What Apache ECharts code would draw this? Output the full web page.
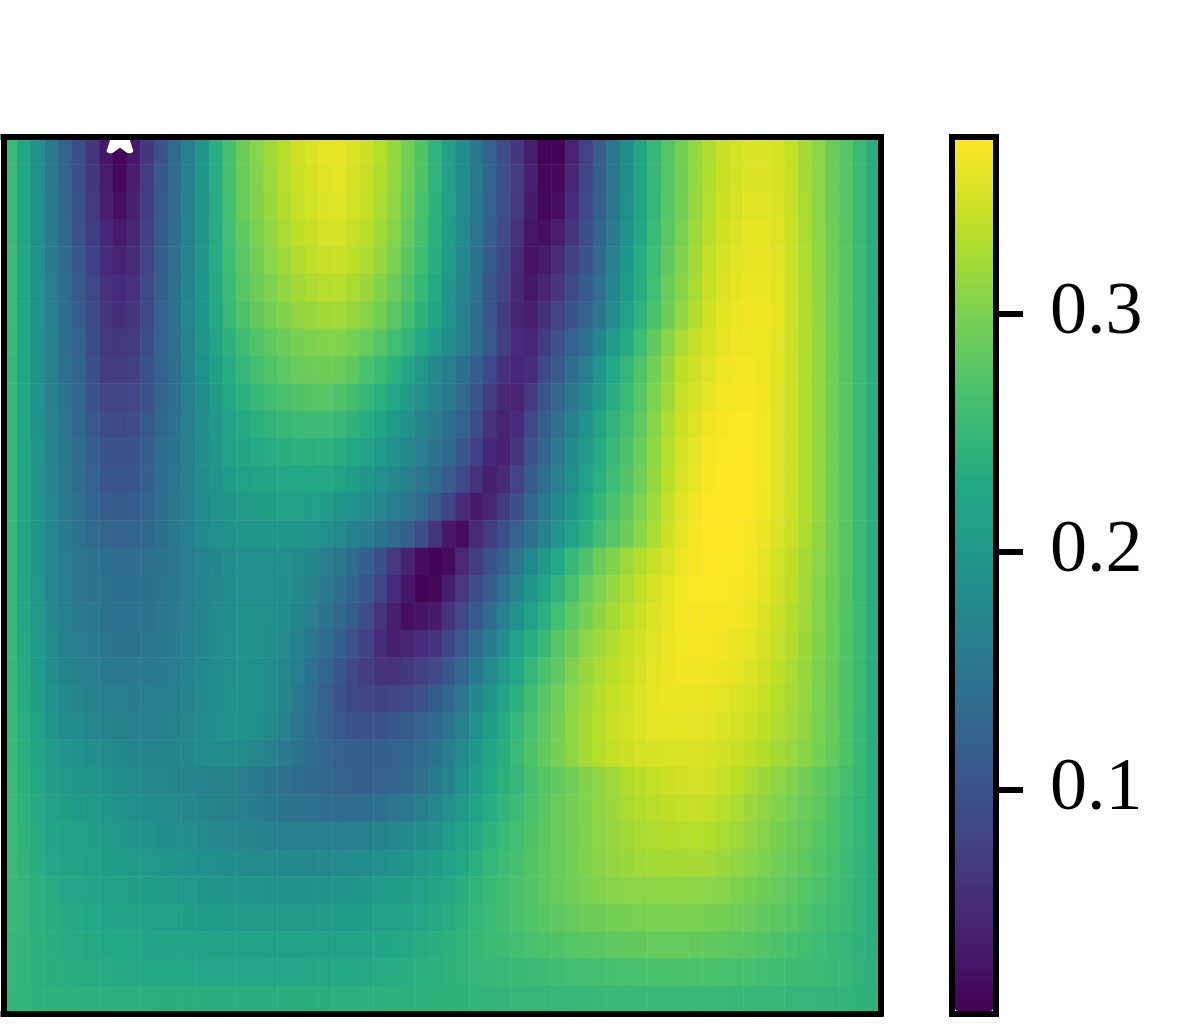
<!DOCTYPE html>
<html>
<head>
<meta charset="utf-8">
<style>
  html, body { margin: 0; background: #fff; }
  #chart { width: 1196px; height: 1034px; }
</style>
<script src="https://cdn.jsdelivr.net/npm/echarts@6/dist/echarts.min.js"></script>
</head>
<body>
<div id="chart"></div>
<script>
// values, in thousandths, top row first
const fieldRows = [
[255,225,190,155,125,92,62,30,8,30,65,102,132,165,200,235,265,290,307,322,335,347,354,360,362,354,345,332,316,296,272,245,215,185,152,122,92,65,35,9,9,42,78,113,150,185,220,250,275,296,315,330,342,350,354,354,351,340,325,310,290,275,255,235],
[255,225,190,155,125,95,64,35,14,37,70,105,135,165,200,235,265,290,305,320,333,345,352,358,360,352,343,330,315,295,272,245,215,185,155,125,95,70,40,12,12,45,80,115,150,185,220,250,275,295,315,330,343,350,355,355,352,340,325,310,290,275,255,235],
[255,225,190,157,128,98,68,40,22,40,73,108,137,167,200,233,263,288,303,318,330,342,349,354,356,349,340,327,312,292,268,243,213,183,153,122,93,66,34,14,22,52,85,118,153,187,222,250,277,297,317,332,345,352,358,358,354,342,327,310,291,275,255,235],
[255,225,190,158,130,102,72,46,32,46,77,111,139,168,200,232,261,284,300,314,326,337,344,349,351,344,335,322,307,287,264,240,210,180,150,118,90,60,28,22,35,62,93,124,158,192,226,254,280,300,320,335,348,355,360,360,356,344,328,312,292,276,255,235],
[255,225,190,159,133,106,77,52,42,52,81,114,141,170,200,231,258,280,295,309,320,330,337,342,344,337,328,315,300,280,258,235,206,176,146,112,85,52,25,33,50,75,102,132,165,198,232,258,284,304,323,339,352,358,362,362,358,345,329,312,293,276,255,235],
[254,225,190,160,136,110,82,58,50,58,85,117,143,172,200,229,255,275,290,303,313,322,328,332,334,327,318,305,290,272,250,229,200,171,141,107,78,46,30,45,65,88,112,141,173,205,237,262,288,308,327,343,355,361,364,364,359,346,330,313,294,276,255,235],
[254,225,190,161,139,114,86,63,56,63,88,119,145,174,200,226,251,270,285,297,305,313,318,322,323,317,307,295,280,263,243,222,195,166,136,103,72,43,35,57,78,100,122,150,180,212,242,268,293,313,331,347,358,363,366,366,360,347,331,314,295,276,255,235],
[252,225,190,163,142,119,91,67,63,69,92,120,143,168,194,219,241,258,272,283,291,299,303,305,305,298,288,276,262,246,226,207,182,160,138,108,74,50,45,72,98,120,143,172,205,230,257,285,307,328,342,352,361,365,366,366,359,346,331,315,296,276,255,235],
[250,225,190,165,145,125,95,72,70,77,97,120,140,165,190,214,233,248,262,273,281,288,292,293,291,281,268,256,241,222,203,178,162,142,116,85,58,46,52,88,112,137,162,197,227,247,272,297,317,337,347,357,365,368,368,366,358,345,330,315,295,275,255,235],
[250,225,192,167,148,127,102,80,78,84,102,124,142,163,186,208,225,238,250,259,266,272,275,275,272,262,250,238,223,206,187,168,154,133,103,72,48,42,68,103,128,152,177,207,235,255,278,302,322,342,352,362,368,370,370,367,358,345,330,315,295,275,255,235],
[250,225,193,169,150,130,108,90,88,93,108,128,145,163,183,203,218,229,238,245,250,254,256,256,252,243,231,219,205,190,173,158,142,120,90,60,42,50,85,118,143,167,192,220,245,262,285,308,328,346,356,366,371,372,372,368,358,345,330,315,295,275,255,235],
[250,225,195,170,152,133,113,98,96,100,113,132,148,164,182,199,212,221,228,233,237,239,240,239,234,226,215,204,191,177,162,148,130,104,75,46,40,62,98,128,154,178,203,230,252,268,290,312,332,350,360,369,372,373,372,368,358,345,330,315,295,275,255,235],
[250,225,197,172,154,137,119,106,104,107,118,135,150,165,181,195,206,213,218,222,224,225,225,224,218,209,199,189,177,165,150,133,113,85,58,38,50,78,112,140,165,188,213,238,258,274,295,316,336,353,363,371,373,374,373,368,358,345,330,315,295,275,255,235],
[250,225,198,174,156,141,125,114,112,114,124,138,152,165,179,191,199,204,208,211,212,212,210,207,200,192,183,174,162,150,132,108,82,50,34,45,70,95,128,155,178,200,224,247,266,282,302,322,341,357,367,373,374,374,372,367,357,345,330,315,295,275,255,235],
[250,225,199,175,158,146,133,126,124,124,130,140,153,165,177,187,193,196,199,200,200,199,195,189,180,170,158,147,133,116,92,62,30,18,48,72,95,120,145,170,195,215,238,259,275,292,310,328,346,360,370,374,374,373,370,364,355,343,328,313,295,275,255,235],
[250,225,200,175,160,150,144,139,137,138,141,146,152,160,168,176,183,187,189,189,187,181,172,162,151,136,117,93,66,42,18,10,16,48,72,97,122,150,176,204,226,250,270,290,305,320,331,343,353,365,371,373,373,372,368,360,350,338,325,310,295,275,255,235],
[250,226,201,176,161,152,146,141,139,139,142,147,153,161,169,177,184,188,189,188,185,177,166,154,142,125,103,78,50,28,10,12,38,66,90,115,143,170,198,220,245,266,287,302,317,328,340,350,360,368,372,372,372,370,366,358,348,336,323,308,293,274,255,235],
[250,227,203,178,163,156,151,145,143,143,145,150,155,163,171,179,186,190,190,187,182,172,160,146,131,112,90,62,38,20,26,33,60,86,110,137,165,192,215,238,261,281,298,312,324,335,345,354,362,368,371,371,370,368,363,355,345,333,321,306,291,273,255,235],
[250,228,205,181,167,160,156,150,148,148,150,153,158,165,173,181,188,191,190,186,179,167,152,136,118,98,76,52,38,42,52,60,84,108,132,159,187,212,233,254,275,293,309,321,331,340,349,357,364,368,370,369,367,364,359,351,342,331,319,305,290,272,254,235],
[250,230,208,185,172,165,161,156,154,154,155,157,162,168,176,183,189,192,190,184,175,161,145,126,107,88,72,60,58,66,76,86,107,130,153,180,205,227,248,267,285,303,317,328,336,344,352,359,364,367,367,366,364,360,354,347,338,328,317,303,289,272,254,235],
[251,232,211,190,178,171,167,162,160,159,160,162,165,171,178,185,190,193,190,183,172,156,139,120,102,88,78,76,80,88,100,112,130,150,172,197,220,240,259,277,294,310,322,332,340,347,354,360,363,364,364,362,359,355,349,342,334,325,315,302,288,271,254,235],
[252,235,215,197,186,180,175,170,167,165,165,166,169,174,180,187,191,192,188,178,165,150,136,120,108,100,98,100,106,112,120,130,146,167,188,210,230,250,267,283,299,313,325,335,343,349,355,359,360,360,360,358,354,350,344,337,330,322,312,300,287,270,253,235],
[253,238,220,204,196,190,185,180,176,173,172,172,173,176,179,183,184,181,175,165,155,146,136,127,120,116,115,116,120,125,133,145,160,180,200,219,237,254,270,286,299,312,324,333,341,346,350,352,353,354,354,352,348,344,338,331,324,317,308,298,286,270,253,235],
[255,240,225,210,205,200,195,190,185,181,178,175,173,171,169,167,166,162,156,147,141,136,131,127,122,119,118,120,123,131,141,156,171,190,210,225,240,250,265,275,285,295,305,312,320,330,335,340,345,348,350,348,342,336,326,319,311,305,295,285,275,262,250,235],
[255,242,229,216,211,206,202,198,193,189,185,182,179,175,172,169,167,163,159,153,148,144,141,138,136,137,140,145,150,155,164,175,187,203,219,233,246,256,268,278,288,297,305,312,319,326,331,335,338,340,342,339,334,328,319,312,305,298,290,282,272,260,248,235],
[255,244,232,222,217,212,208,204,200,196,193,189,186,182,179,176,174,171,168,165,163,161,160,160,161,162,165,169,174,178,185,193,204,216,229,241,252,261,271,280,289,297,304,310,316,322,326,329,331,332,333,331,327,321,313,306,299,293,286,278,269,258,247,235],
[254,245,235,227,222,218,214,211,208,204,201,198,195,192,189,187,185,183,181,179,178,178,178,178,180,182,185,189,193,197,203,209,217,227,238,248,257,265,273,281,289,296,303,308,313,317,321,323,324,325,325,323,319,314,307,301,294,288,281,274,266,256,246,236],
[253,246,238,231,227,223,220,217,214,211,208,206,204,201,199,197,196,195,194,193,192,192,192,193,194,196,199,202,206,209,214,220,226,235,244,252,260,267,274,281,288,294,300,304,307,309,310,311,311,311,310,309,307,303,298,293,288,282,276,270,263,254,245,236],
[252,246,239,234,231,228,225,222,220,218,216,214,212,210,208,207,206,205,205,204,204,204,204,205,206,208,210,213,216,220,224,229,234,241,248,255,261,267,273,278,282,286,290,293,296,298,300,301,301,301,300,298,296,292,288,284,280,275,270,264,259,252,245,237],
[250,245,240,236,233,231,229,227,225,224,222,221,220,218,217,216,215,215,215,214,214,214,215,215,216,218,220,222,225,228,232,236,240,245,250,254,258,262,266,269,272,275,278,280,282,284,285,286,286,286,285,284,282,280,277,274,270,266,262,257,253,248,243,238],
[248,244,240,237,235,233,232,231,229,228,227,226,226,225,224,224,224,224,224,224,224,224,225,225,226,227,229,231,233,235,238,240,243,245,247,249,251,253,255,257,259,261,262,264,265,266,267,268,268,268,268,267,266,265,264,262,260,258,256,254,252,249,245,241],
[246,244,242,241,240,240,239,239,238,238,238,237,237,237,236,236,236,236,236,236,236,237,237,237,238,238,239,239,240,240,241,242,243,243,244,245,246,247,248,248,249,250,250,251,251,252,252,252,252,252,252,251,251,250,250,249,249,248,247,246,245,244,243,241],
]

const colorbarTicks = [0.1, 0.2, 0.3]
const valueMin = 0.006
const valueMax = 0.374
// the one marked cell: column, row
const markedCell = [[8, 0]]

const viridis = ['#440154', '#482475', '#414487', '#355f8d', '#2a788e', '#21918c', '#22a884', '#44bf70', '#7ad151', '#bddf26', '#fde725']

const xCategories = fieldRows[0].map((_, i) => i)
const yCategories = fieldRows.map((_, i) => i)

const cells = []
fieldRows.forEach((row, y) => row.forEach((v, x) => cells.push([x, y, v / 1000])))

const spine = { show: true, onZero: false, lineStyle: { color: '#000', width: 6, cap: 'square' } }

// bare category axis, only its line is drawn so the frame sits above the cells
const frameAxis = (gridIndex, position, data) => ({
  type: 'category',
  gridIndex,
  position,
  data,
  z: 10,
  axisLine: spine,
  axisTick: { show: false },
  axisLabel: { show: false },
  splitLine: { show: false },
})

const chart = echarts.init(document.getElementById('chart'), null, { renderer: 'canvas' })

chart.setOption({
  animation: false,
  backgroundColor: '#fff',
  grid: [
    { left: 3.5, top: 137, width: 877, height: 876.5 },
    { left: 952, top: 137, width: 44, height: 876.5 },
  ],
  xAxis: [
    frameAxis(0, 'bottom', xCategories),
    frameAxis(0, 'top', xCategories),
    frameAxis(1, 'bottom', ['']),
    frameAxis(1, 'top', ['']),
  ],
  yAxis: [
    { ...frameAxis(0, 'left', yCategories), inverse: true },
    { ...frameAxis(0, 'right', yCategories), inverse: true },
    frameAxis(1, 'left', ['']),
    {
      type: 'value',
      gridIndex: 1,
      position: 'right',
      min: valueMin,
      max: valueMax,
      z: 10,
      axisLine: spine,
      axisTick: { show: true, length: 27, customValues: colorbarTicks, lineStyle: { color: '#000', width: 6 } },
      axisLabel: {
        show: true,
        customValues: colorbarTicks,
        margin: 54,
        color: '#000',
        fontSize: 74,
        fontFamily: 'Liberation Serif',
        formatter: (v) => v.toFixed(1),
      },
      splitLine: { show: false },
    },
  ],
  visualMap: {
    type: 'continuous',
    seriesIndex: 0,
    min: valueMin,
    max: valueMax,
    calculable: false,
    hoverLink: false,
    showLabel: false,
    left: 955,
    top: 140,
    padding: 0,
    itemWidth: 38,
    itemHeight: 871,
    inRange: { color: viridis },
  },
  series: [
    {
      type: 'heatmap',
      xAxisIndex: 0,
      yAxisIndex: 0,
      data: cells,
      progressive: 0,
      silent: true,
    },
    {
      type: 'scatter',
      xAxisIndex: 0,
      yAxisIndex: 0,
      data: markedCell,
      silent: true,
      clip: false,
      z: 5,
      // lower half of a star, the upper half is cut off by the frame
      symbol: 'path://M-15.2,-4.9L-5.8,1.9L-9.4,12.9L0,6.1L9.4,12.9L5.8,1.9L15.2,-4.9Z',
      symbolSize: [30.4, 17.8],
      symbolOffset: [0, -8.7],
      itemStyle: { color: '#fff', borderColor: '#fff', borderWidth: 6, borderJoin: 'round', opacity: 1 },
    },
  ],
})
</script>
</body>
</html>
